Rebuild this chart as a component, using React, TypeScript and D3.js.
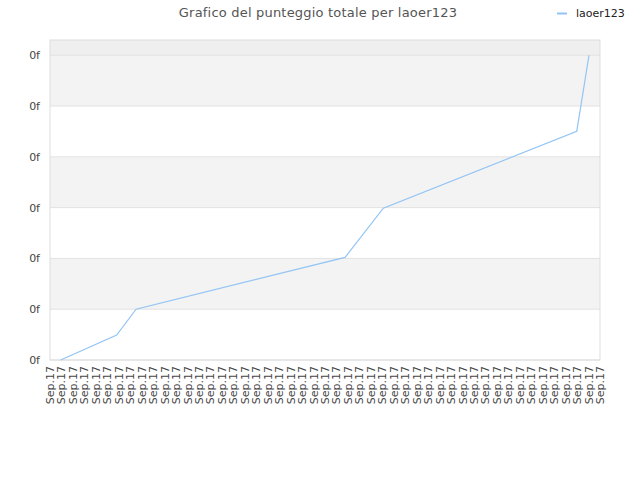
import React from "react";
import * as d3 from "d3";

const title = "Grafico del punteggio totale per laoer123";
const seriesName = "laoer123";
const xTickLabels: string[] = Array.from({ length: 49 }, () => "Sep.17");
const yTickValues = [0, 1, 2, 3, 4, 5, 6];
const yTickLabels = ["0f", "0f", "0f", "0f", "0f", "0f", "0f"];
const pointTimes = [0.93, 5.82, 7.51, 25.75, 29.09, 45.97, 47.04];
const scores = [0, 0.49, 1.0, 2.02, 2.99, 4.5, 6.0];

const W = 640;
const H = 480;
const M = { left: 50, right: 40, top: 40, bottom: 120 };
const FONT = "'DejaVu Sans', Verdana, sans-serif";

export default function App() {
  const x = d3.scaleLinear().domain([0, xTickLabels.length - 1]).range([M.left, W - M.right]);
  const y = d3.scaleLinear().domain([0, 6.3]).range([H - M.bottom, M.top]);
  const line = d3
    .line<number>()
    .x((_, i) => x(pointTimes[i]))
    .y((d) => y(d));

  const bands = yTickValues.slice(0, -1).map((v, i) => ({
    y0: y(yTickValues[i + 1]),
    y1: y(v),
    fill: i % 2 === 1 ? "#f3f3f3" : "#ffffff",
  }));
  const topV = yTickValues[yTickValues.length - 1];

  return (
    <svg
      width={W}
      height={H}
      style={{ position: "absolute", left: 0, top: 0, background: "#fff" }}
      fontFamily={FONT}
    >
      {bands.map((b, i) => (
        <rect key={i} x={M.left} y={b.y0} width={W - M.left - M.right} height={b.y1 - b.y0} fill={b.fill} />
      ))}
      <rect x={M.left} y={M.top} width={W - M.left - M.right} height={y(topV) - M.top} fill="#efefef" />
      {yTickValues.map((v, i) => (
        <line key={i} x1={M.left} x2={W - M.right} y1={y(v)} y2={y(v)} stroke="#e2e2e2" strokeWidth={1} />
      ))}
      <rect
        x={M.left}
        y={M.top}
        width={W - M.left - M.right}
        height={H - M.top - M.bottom}
        fill="none"
        stroke="#dddddd"
        strokeWidth={1}
      />
      {yTickValues.map((v, i) => (
        <text key={i} x={M.left - 10} y={y(v) + 4} textAnchor="end" fontSize={11} fill="#444">
          {yTickLabels[i]}
        </text>
      ))}
      {xTickLabels.map((l, i) => (
        <text
          key={i}
          transform={`translate(${x(i) + 4},${H - M.bottom + 6}) rotate(-90)`}
          textAnchor="end"
          fontSize={11}
          fill="#444"
        >
          {l}
        </text>
      ))}
      <path d={line(scores) || ""} fill="none" stroke="#92c4f4" strokeWidth={1.2} />
      <text x={318} y={17} textAnchor="middle" fontSize={13} fill="#555" letterSpacing={0.2}>
        {title}
      </text>
      <line x1={557} x2={567} y1={13.5} y2={13.5} stroke="#92c4f4" strokeWidth={2} />
      <text x={576} y={17} fontSize={11} fill="#222">
        {seriesName}
      </text>
    </svg>
  );
}
